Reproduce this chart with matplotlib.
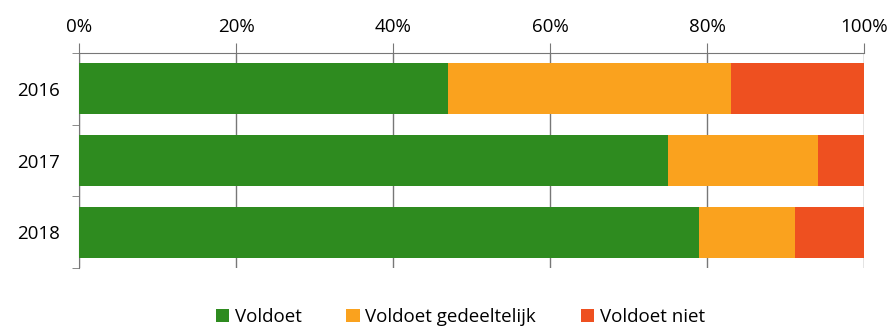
import matplotlib.pyplot as plt
import numpy as np

years = ["2016", "2017", "2018"]
voldoet = [47.0, 75.0, 79.0]
gedeeltelijk = [36.1, 19.1, 12.2]
niet = [16.9, 5.9, 8.8]

series = [("Voldoet", voldoet, "#2e8b1f"),
          ("Voldoet gedeeltelijk", gedeeltelijk, "#faa21e"),
          ("Voldoet niet", niet, "#ee5020")]

plt.rcParams["font.family"] = ["Open Sans", "DejaVu Sans"]

fig = plt.figure(figsize=(8.92, 3.27), dpi=100)
ax = fig.add_axes([0.0886, 0.180, 0.88, 0.658])

y = np.arange(len(years))
left = np.zeros(len(years))
for name, vals, col in series:
    ax.barh(y, vals, left=left, height=0.71, color=col, label=name, zorder=3)
    left += np.array(vals)

ax.set_xlim(0, 100)
ax.set_ylim(2.5, -0.5)
ax.set_xticks(np.arange(0, 101, 20))
ax.set_xticklabels([f"{v}%" for v in range(0, 101, 20)])
ax.xaxis.tick_top()
ax.tick_params(axis="x", length=7, color="#777777", labelsize=13.5, pad=5)
ax.grid(axis="x", color="#777777", linewidth=1, zorder=0)

ax.set_yticks(y)
ax.set_yticklabels(years)
ax.set_yticks([-0.5, 0.5, 1.5, 2.5], minor=True)
ax.tick_params(axis="y", which="major", length=0, labelsize=13.5, pad=14)
ax.tick_params(axis="y", which="minor", length=5, color="#777777")

for s in ["right", "bottom"]:
    ax.spines[s].set_visible(False)
for s in ["top", "left"]:
    ax.spines[s].set_color("#777777")

fig.legend(loc="lower center", bbox_to_anchor=(0.516, -0.05), ncol=3, frameon=False,
           fontsize=13.5, handlelength=0.7, handleheight=0.7, handletextpad=0.3,
           columnspacing=2.4)

fig.savefig("out.png", dpi=100)
